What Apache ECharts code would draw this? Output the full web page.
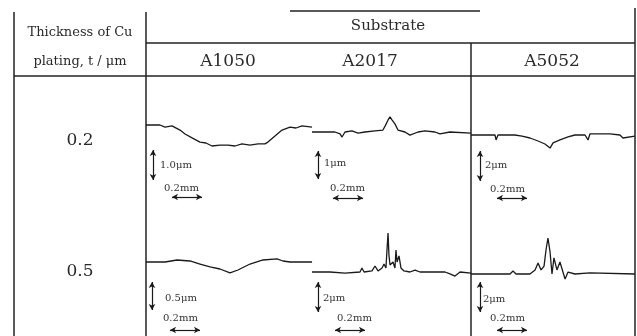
<!DOCTYPE html>
<html><head><meta charset="utf-8">
<script src="https://cdn.jsdelivr.net/npm/echarts@6/dist/echarts.min.js"></script>
<style>html,body{margin:0;padding:0;background:#fff}#c{width:637px;height:336px}</style>
</head><body><div id="c"></div>
<script>
// ---- data ----
const substrates = ['A1050', 'A2017', 'A5052'];
const thicknesses = ['0.2', '0.5'];
const headerTitle = ['Thickness of Cu', 'plating, t / μm'];
const groupTitle = 'Substrate';
// vertical scale labels [row][col], horizontal scale label
const vScaleLabels = [['1.0μm', '1μm', '2μm'], ['0.5μm', '2μm', '2μm']];
const vScaleUm = [[1.0, 1, 2], [0.5, 2, 2]];
const hScaleLabel = '0.2mm';
const hScaleMm = 0.2;
// profiles: [position mm, height μm]
const prof_02_A1050 = [[0,0],[0.093,0],[0.127,-0.07],[0.173,-0.03],[0.227,-0.17],[0.26,-0.3],[0.307,-0.43],[0.36,-0.57],[0.4,-0.6],[0.44,-0.7],[0.493,-0.67],[0.547,-0.67],[0.593,-0.7],[0.64,-0.63],[0.693,-0.67],[0.747,-0.63],[0.793,-0.63],[0.813,-0.57],[0.86,-0.37],[0.907,-0.17],[0.96,-0.07],[1.0,-0.1],[1.04,-0.03],[1.107,-0.07]];
const prof_02_A2017 = [[0,0],[0.087,0],[0.153,0],[0.187,-0.07],[0.2,-0.18],[0.22,0],[0.267,0.04],[0.307,-0.04],[0.353,0],[0.42,0.04],[0.473,0.07],[0.487,0.21],[0.507,0.43],[0.52,0.54],[0.533,0.43],[0.553,0.29],[0.573,0.07],[0.62,0],[0.653,-0.11],[0.707,0],[0.753,0.04],[0.82,0],[0.853,-0.07],[0.92,0],[1.06,-0.04]];
const prof_02_A5052 = [[0,0],[0.127,0],[0.16,0],[0.167,-0.33],[0.18,0],[0.293,0],[0.34,-0.07],[0.393,-0.2],[0.447,-0.4],[0.493,-0.6],[0.527,-0.87],[0.547,-0.53],[0.593,-0.33],[0.647,-0.13],[0.693,0],[0.76,0],[0.78,-0.33],[0.793,0.07],[0.927,0.07],[0.993,0],[1.013,-0.2],[1.093,-0.07]];
const prof_05_A1050 = [[0,0],[0.127,0],[0.207,0.036],[0.293,0.018],[0.36,-0.036],[0.427,-0.089],[0.493,-0.125],[0.56,-0.196],[0.613,-0.143],[0.693,-0.036],[0.78,0.036],[0.873,0.054],[0.913,0.018],[0.96,0],[1.107,0]];
const prof_05_A2017 = [[0,0],[0.12,0],[0.22,-0.07],[0.32,0],[0.333,0.27],[0.347,0],[0.4,0.07],[0.42,0.4],[0.44,0.07],[0.467,0.27],[0.48,0.53],[0.493,0.27],[0.5,1.47],[0.507,2.6],[0.513,1.13],[0.52,0.47],[0.54,0.67],[0.553,0.27],[0.56,1.47],[0.567,0.67],[0.58,1.07],[0.593,0.27],[0.613,0.07],[0.653,0],[0.687,0.13],[0.72,0],[0.887,0],[0.92,-0.13],[0.953,-0.27],[0.987,0],[1.06,-0.07]];
const prof_05_A5052 = [[0,0],[0.193,0],[0.26,0],[0.28,0.2],[0.3,0],[0.393,0],[0.427,0.27],[0.447,0.73],[0.467,0.27],[0.487,0.53],[0.5,1.6],[0.513,2.4],[0.527,1.47],[0.54,0],[0.553,1.07],[0.573,0.27],[0.593,0.8],[0.613,0.13],[0.627,-0.33],[0.647,0.13],[0.693,0],[0.793,0.07],[1.093,0]];
const profiles = [[prof_02_A1050, prof_02_A2017, prof_02_A5052], [prof_05_A1050, prof_05_A2017, prof_05_A5052]];

// ---- layout ----
const colL = [146, 312, 471], colW = [166, 159, 164];
const rowT = [77, 205], rowH = [128, 131];
const base = [[125, 132, 135], [262, 272, 274]];
const pxPerUm = [[30, 28, 15], [56, 15, 15]];
const pxPerMm = 150;
const INK = '#1a1a1a';
const FONT = '"DejaVu Serif","Liberation Serif",serif';

const grid = [], xAxis = [], yAxis = [], series = [];
const vBars = [[[153,150],[318,151],[480,151]], [[152,282],[318,282],[480,282]]];
const vLab = [[[160,165],[324,163],[485,165]], [[165,298],[323,298],[483,299]]];
const hLab = [[[164,188],[330,188],[490,189]], [[163,318],[337,318],[490,318]]];
const hBars = [[[172,197],[333,198],[497,198]], [[170,330],[335,330],[497,330]]];
const markData = [];
const graphics = [];
let k = 0;
for (let r = 0; r < 2; r++) {
  for (let c = 0; c < 3; c++) {
    grid.push({left: colL[c], top: rowT[r], width: colW[c], height: rowH[r], containLabel: false});
    xAxis.push({type: 'value', gridIndex: k, min: 0, max: colW[c] / pxPerMm, show: false});
    const p = pxPerUm[r][c];
    yAxis.push({type: 'value', gridIndex: k, min: -(rowT[r] + rowH[r] - base[r][c]) / p, max: (base[r][c] - rowT[r]) / p, show: false});
    series.push({type: 'line', xAxisIndex: k, yAxisIndex: k, data: profiles[r][c], showSymbol: false, symbol: 'none',
      lineStyle: {color: INK, width: 1.3}, clip: false, animation: false, silent: true});
    // scale bars
    const vb = vBars[r][c], len = vScaleUm[r][c] * p;
    markData.push([{x: vb[0], y: vb[1]}, {x: vb[0], y: vb[1] + len}]);
    const hb = hBars[r][c], hl = hScaleMm * pxPerMm;
    markData.push([{x: hb[0], y: hb[1]}, {x: hb[0] + hl, y: hb[1]}]);
    graphics.push({type: 'text', style: {text: vScaleLabels[r][c], x: vLab[r][c][0], y: vLab[r][c][1], font: '10px ' + FONT, fill: '#333', textAlign: 'left', textVerticalAlign: 'middle', align: 'left', verticalAlign: 'middle'}});
    graphics.push({type: 'text', style: {text: hScaleLabel, x: hLab[r][c][0], y: hLab[r][c][1], font: '10px ' + FONT, fill: '#333', textAlign: 'left', textVerticalAlign: 'middle', align: 'left', verticalAlign: 'middle'}});
    k++;
  }
}
series[0].markLine = {silent: true, animation: false, symbol: ['arrow', 'arrow'], symbolSize: [5, 6],
  lineStyle: {color: INK, width: 1.2, type: 'solid'}, label: {show: false}, data: markData};

function L(x1, y1, x2, y2, w) {
  return {type: 'line', shape: {x1, y1, x2, y2}, style: {stroke: '#222', lineWidth: w || 1.5}, silent: true};
}
function T(text, x, y, size, align) {
  return {type: 'text', style: {text, x, y, font: size + 'px ' + FONT, fill: '#2a2a2a', textAlign: align || 'center', textVerticalAlign: 'middle', align: align || 'center', verticalAlign: 'middle'}};
}
graphics.push(
  L(14, 12, 14, 336), L(146, 12, 146, 336), L(635, 8, 635, 336), L(471, 43, 471, 336),
  L(290, 11, 480, 11), L(146, 43, 635, 43), L(14, 76, 635, 76),
  T(headerTitle[0], 80, 33, 13), T(headerTitle[1], 80, 62, 13),
  T(groupTitle, 388, 26, 15),
  T(substrates[0], 228, 62, 17), T(substrates[1], 370, 62, 17), T(substrates[2], 552, 62, 17),
  T(thicknesses[0], 80, 141, 17), T(thicknesses[1], 80, 272, 17)
);

const chart = echarts.init(document.getElementById('c'), null, {renderer: 'canvas'});
chart.setOption({animation: false, backgroundColor: '#fff', grid, xAxis, yAxis, series, graphic: graphics});
</script></body></html>
